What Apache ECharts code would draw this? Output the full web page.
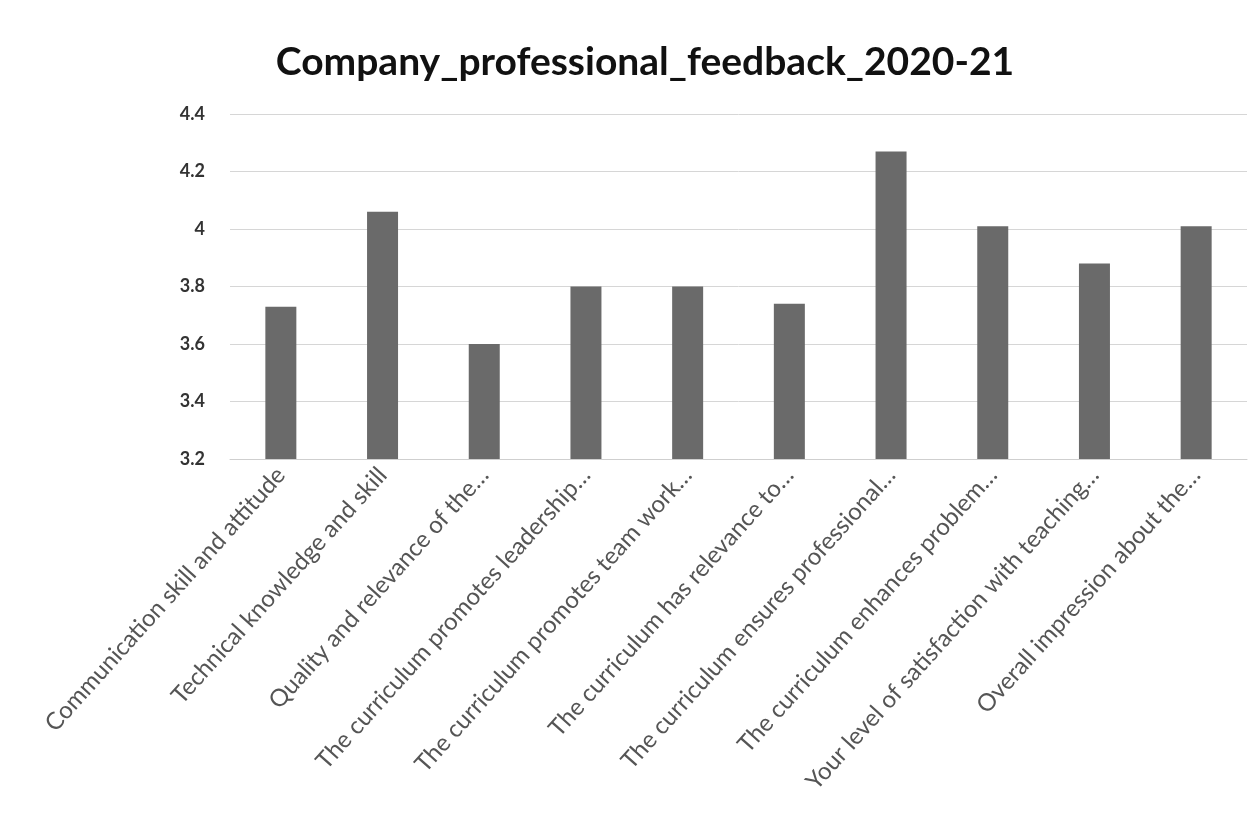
<!DOCTYPE html>
<html>
<head>
<meta charset="utf-8">
<script src="https://cdn.jsdelivr.net/npm/echarts@6/dist/echarts.min.js"></script>
<style>
html,body{margin:0;padding:0;background:#fff;}
#chart{width:1248px;height:814px;}
</style>
</head>
<body>
<div id="chart"></div>
<script>
const categories = [
  "Communication skill and attitude",
  "Technical knowledge and skill",
  "Quality and relevance of the…",
  "The curriculum promotes leadership…",
  "The curriculum promotes team work…",
  "The curriculum has relevance to…",
  "The curriculum ensures professional…",
  "The curriculum enhances problem…",
  "Your level of satisfaction with teaching…",
  "Overall impression about the…"
];
const values = [3.73, 4.06, 3.6, 3.8, 3.8, 3.74, 4.27, 4.01, 3.88, 4.01];
const yTicks = [3.2, 3.4, 3.6, 3.8, 4, 4.2, 4.4];

const chart = echarts.init(document.getElementById('chart'));
chart.setOption({
  backgroundColor: '#ffffff',
  animation: false,
  title: {
    text: 'Company_professional_feedback_2020-21',
    left: 640, top: 38, textAlign: 'center',
    textStyle: { fontFamily: 'Lato', fontWeight: 'bold', fontSize: 39, color: '#111' }
  },
  grid: { left: 230, right: 1, top: 114, bottom: 355, containLabel: false },
  xAxis: {
    type: 'category',
    data: categories,
    axisTick: { show: false },
    axisLine: { show: true, lineStyle: { color: '#cfcfcf' } },
    axisLabel: {
      rotate: 48, interval: 0, margin: 12,
      fontFamily: 'Lato', fontSize: 24, color: '#555'
    }
  },
  yAxis: {
    type: 'value',
    min: yTicks[0], max: yTicks[yTicks.length - 1], interval: 0.2,
    axisLine: { show: false }, axisTick: { show: false },
    axisLabel: {
      margin: 25, fontFamily: 'Lato', fontWeight: 'bold', fontSize: 18, color: '#333',
      formatter: v => String(Math.round(v * 10) / 10)
    },
    splitLine: { lineStyle: { color: '#d6d6d6', width: 1 } }
  },
  series: [{
    type: 'bar',
    data: values,
    barWidth: 31,
    itemStyle: { color: '#6a6a6a' }
  }]
});
</script>
</body>
</html>
